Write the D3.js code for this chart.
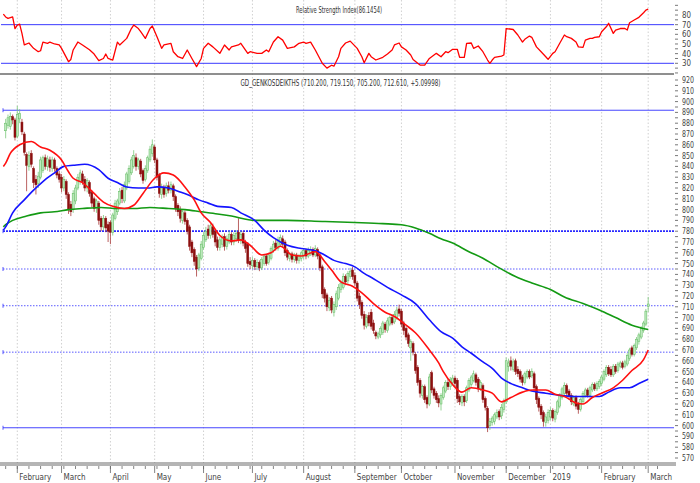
<!DOCTYPE html>
<html><head><meta charset="utf-8">
<script src="https://cdn.jsdelivr.net/npm/d3@7"></script>
<style>
html,body{margin:0;padding:0;background:#fff;}
svg{display:block;}
text{font-family:"Liberation Sans Narrow","DejaVu Sans Condensed","Arial Narrow","Liberation Sans",sans-serif;}
</style></head><body>
<svg id="c" width="700" height="483"></svg>
<script>
// ---------- DATA ----------
const TITLE_MAIN = "GD_GENKOSDEIKTHS (710.200, 719.150, 705.200, 712.610, +5.09998)";
const TITLE_RSI = "Relative Strength Index(86.1454)";
const MONTH_IDX = [5,24,45,64,85,106,128,150,170,193,215,234,256,276];
const MONTH_LBL = ["February","March","April","May","June","July","August","September","October","November","December","2019","February","March"];
const PRICE_TICKS = d3.range(570, 921, 10);
const RSI_TICKS = [30,40,50,60,70,80];
const H_LINES = [892, 780, 745, 711, 668, 598];
const RSI_LINES = [70, 30];

const OPEN = [
873,878,877,886,883,
868,884,881,870,851,840,852,838,828,824,830,836,848,840,846,838,846,838,833,
830,820,826,814,805,800,808,820,826,833,828,820,825,816,810,801,806,792,784,792,786,
788,779,792,798,806,818,808,820,826,834,840,848,840,845,836,828,836,846,852,
858,846,832,814,820,815,822,818,822,812,804,800,790,797,790,784,770,763,756,746,755,
765,772,782,776,784,780,772,765,768,775,766,770,777,770,773,779,771,778,770,768,752,
748,753,747,751,746,750,757,751,755,762,769,764,768,773,770,762,755,759,754,758,753,755,
757,762,757,759,763,758,763,758,747,726,721,709,718,705,710,718,726,728,738,734,738,744,
739,732,720,714,703,692,702,705,695,686,682,684,686,694,688,694,700,696,700,708,
706,695,690,684,672,676,666,654,642,628,636,626,620,649,634,630,625,620,626,632,640,636,640,
644,642,627,621,627,623,633,638,642,647,643,634,637,625,616,600,603,604,608,613,609,615,
622,655,660,652,660,652,650,645,640,645,650,646,648,636,625,618,612,603,605,
608,614,606,612,618,626,630,637,632,628,620,626,620,615,622,628,633,628,633,638,634,636,
639,643,647,654,652,647,655,651,655,658,655,657,662,672,666,672,678,682,688,694,
710.2];
const HIGH = [
884,888,890,888,885,
896,893,884,872,853,854,855,840,832,835,849,850,851,850,849,849,848,840,836,
833,831,828,816,808,818,823,833,837,836,831,829,827,818,812,810,808,794,795,794,789,
790,797,809,810,820,821,826,835,841,849,855,852,848,847,838,841,850,859,865,
860,848,834,824,823,825,826,826,824,814,806,803,800,799,792,786,772,765,758,760,771,
779,784,786,788,787,782,775,775,777,778,776,780,779,779,781,792,780,780,772,770,756,
756,755,754,753,756,759,759,760,766,771,772,775,777,776,772,764,761,761,760,760,759,762,
764,764,765,766,765,767,765,760,749,728,723,719,720,715,725,731,735,741,740,743,746,747,
742,734,723,716,706,703,705,708,698,688,687,692,697,696,700,702,703,706,710,712,
708,697,692,686,680,678,668,656,644,638,638,628,648,651,636,632,628,630,637,642,643,645,647,
646,644,629,629,629,637,644,647,651,649,645,642,639,627,618,607,609,612,615,615,620,625,
663,662,664,662,662,655,652,647,650,652,652,653,650,638,627,620,614,611,615,
617,616,615,624,630,636,640,639,634,630,628,628,622,626,632,635,635,637,640,640,641,643,
647,652,656,656,655,657,657,659,660,660,661,667,672,674,676,682,686,692,697,708,
719.15];
const LOW = [
866,875,874,879,864,
866,880,869,850,817,836,839,820,814,820,828,834,837,836,835,835,835,829,825,
816,817,810,796,794,797,805,818,823,823,817,816,812,802,798,797,786,780,781,779,770,
768,776,790,795,804,806,806,818,824,832,838,836,837,830,824,826,834,844,849,
843,827,811,810,811,812,815,815,808,798,794,788,787,786,777,762,756,748,738,743,753,
763,770,773,773,774,766,762,762,765,762,763,768,767,767,770,769,768,766,760,747,745,
745,744,744,743,744,748,748,749,753,760,762,762,766,765,757,753,752,751,751,750,750,752,
754,754,755,757,756,756,754,743,718,714,706,706,704,701,707,716,723,726,730,731,736,735,
729,715,708,699,689,690,692,689,685,680,680,681,684,686,686,692,693,694,698,701,
691,684,679,673,660,665,648,637,626,625,621,616,618,630,625,621,617,614,624,630,633,633,637,
636,621,619,618,618,621,631,636,640,637,631,632,621,614,594,596,600,601,606,605,606,612,
620,650,651,650,647,645,640,637,638,643,643,644,632,620,613,606,599,599,602,
605,604,603,610,616,624,628,627,624,619,618,615,611,613,620,626,626,626,631,632,632,634,
637,641,645,646,645,645,648,649,653,652,653,655,660,664,664,670,675,680,686,692,
705.2];
const CLOSE = [
880,885,886,883,867,
888,889,872,853,841,850,842,825,823,831,846,848,840,847,839,846,838,832,828,
820,828,814,800,798,815,820,830,834,826,820,827,815,806,801,808,790,784,792,783,780,
779,795,806,808,817,810,823,833,838,846,850,840,846,833,827,838,848,856,860,
846,830,815,820,814,822,818,823,812,801,798,792,798,789,780,766,760,752,745,758,768,
776,780,776,785,777,770,765,772,774,766,773,777,770,776,778,772,777,769,764,750,749,
753,747,751,746,754,757,750,758,764,768,765,772,774,768,760,756,759,754,758,753,757,760,
762,757,762,763,758,764,757,746,722,718,710,716,707,712,722,728,732,738,733,741,743,738,
732,718,712,702,693,700,695,692,688,683,685,690,695,689,697,700,695,703,707,704,
694,688,682,676,678,668,651,640,630,636,624,620,645,633,628,624,621,628,635,640,636,643,644,
639,625,622,627,622,635,642,645,648,640,634,640,624,617,598,604,607,610,612,608,617,622,
660,658,655,659,650,648,643,640,648,650,645,650,635,624,617,610,604,608,612,
614,607,613,622,628,634,637,630,627,622,626,618,615,624,630,633,628,635,638,634,639,641,
645,650,654,648,647,655,650,657,658,654,659,665,670,666,674,680,684,690,695,706,
712.61];

// moving averages: [day index, value]
const MA_SHORT = [[-1,840],[0,843],[2,852],[6,860],[11,863],[15,858],[19,855],[24,846],[27,835],[29,829],[33,825],[38,815],[42,807],[46,803],[51,801],[55,804],[59,815],[64,829],[68,834],[72,832],[77,821],[81,809],[84,797],[88,788],[92,776],[97,771],[101,772],[105,767],[110,758],[114,760],[118,766],[123,758],[127,757],[133,761],[137,752],[140,744],[144,733],[149,729],[153,723],[158,713],[163,705],[167,701],[172,693],[176,686],[182,670],[186,658],[188,650],[192,638],[196,631],[200,635],[205,633],[209,630],[213,622],[217,626],[222,631],[226,633],[232,633],[236,629],[240,627],[245,621],[248,620],[252,626],[256,630],[261,635],[265,642],[269,651],[274,661],[276,670]];
const MA_MID = [[-1,781],[0,784],[3,797],[8,809],[12,818],[16,826],[21,834],[25,840],[29,841],[34,842],[40,837],[44,829],[48,825],[52,821],[57,820],[61,820],[65,821],[70,820],[74,817],[78,814],[83,809],[87,806],[91,803],[97,802],[101,797],[107,790],[111,781],[115,774],[121,767],[127,764],[133,762],[137,758],[141,753],[146,750],[150,747],[154,741],[158,736],[164,728],[170,721],[176,713],[182,698],[187,687],[192,681],[196,673],[200,667],[205,659],[209,653],[213,644],[218,638],[222,635],[226,632],[232,630],[238,628],[244,627],[249,627],[255,627],[259,631],[264,635],[268,635],[272,639],[276,643]];
const MA_LONG = [[-1,784],[0,786],[3,790],[9,794],[15,797],[21,798],[27,800],[33,801],[41,802],[48,801],[55,801],[62,802],[70,801],[77,800],[84,798],[91,796],[97,794],[107,790],[121,790],[136,789],[150,788],[162,787],[170,786],[176,783],[182,778],[187,773],[192,769],[199,761],[205,755],[212,746],[219,738],[226,732],[234,726],[240,719],[248,713],[255,707],[262,700],[269,693],[276,689]];

// RSI: [day index, value]
const RSI = [[-1,81],[0,78],[1,76.5],[3,78],[4,66],[5,69.6],[6,70.6],[7,61],[8,49],[10,51],[12,45.5],[14,42],[15,43],[16,52],[18,50.7],[19,52],[21,50],[23,49],[24,45.5],[27,31.7],[28,34],[29,43.8],[31,52],[33,49],[36,44],[38,39.6],[40,32.7],[42,35],[43,39.6],[44,35],[46,33.4],[48,52],[49,49],[52,55.8],[54,66],[55,69.6],[57,66],[58,62.7],[60,55.8],[62,66],[63,68.6],[65,57.5],[67,45.5],[68,49],[71,50.7],[72,42],[74,36.8],[76,35],[78,43.8],[80,35],[82,26.5],[84,35],[85,45.5],[87,50.7],[89,47],[92,40.3],[94,49],[96,43.8],[97,47],[100,49],[101,50.7],[104,40.3],[105,42],[108,40.3],[110,40.3],[112,43.8],[113,42],[115,52],[117,57.5],[119,54],[121,45.5],[124,47],[126,50.7],[128,52],[129,50.7],[131,52],[133,43.8],[136,30],[138,25],[140,28],[141,27],[143,36.8],[144,45.5],[146,51],[148,53],[151,45.5],[153,36.8],[154,30.6],[156,40.3],[157,36.8],[159,33.4],[162,36.2],[164,39.6],[166,43.8],[167,49],[169,51],[170,47],[172,43.8],[174,38.6],[175,34],[177,30],[178,28.2],[180,28.2],[182,35],[185,40.3],[187,36.8],[189,42],[190,41],[192,44.5],[194,44.5],[195,36.2],[197,36.2],[198,50.7],[200,51],[201,45.5],[203,47.9],[205,42],[207,33.4],[208,30],[209,33.4],[210,36.2],[213,37.5],[214,38.6],[215,66],[218,65],[220,59.3],[222,52],[223,54.8],[225,58.2],[226,56.9],[228,47],[230,42],[232,36.8],[233,34],[235,40.3],[236,42],[238,50.7],[240,59.3],[241,57.5],[243,55.8],[245,52],[246,47],[248,46.5],[249,54],[251,55.8],[252,55.8],[253,56.9],[255,57.5],[256,62.7],[258,67.8],[259,71.4],[261,61],[262,64.4],[264,66],[266,66],[267,64.4],[268,72],[270,74.8],[272,77.6],[274,82.3],[275,85],[276,86.15]];

// ---------- DRAW ----------
const svg = d3.select('#c');
const PLOT_R = 674, MAIN_T = 74, MAIN_B = 463, RSI_B = 73;
const x = d3.scaleLinear().domain([0, 276]).range([5.66, 648.2]);
const y = d3.scaleLinear().domain([570, 920]).range([458, 80]);
const yr = d3.scaleLinear().domain([30, 80]).range([63.3, 15]);

const defs = svg.append('defs');
defs.append('clipPath').attr('id','clipMain').append('rect')
  .attr('x',1).attr('y',MAIN_T+1).attr('width',PLOT_R-1).attr('height',MAIN_B-MAIN_T-1);
defs.append('clipPath').attr('id','clipRsi').append('rect')
  .attr('x',1).attr('y',0).attr('width',PLOT_R-1).attr('height',RSI_B);

// vertical month gridlines
svg.append('g').selectAll('line').data(MONTH_IDX).join('line')
  .attr('x1',d=>x(d)).attr('x2',d=>x(d)).attr('y1',0).attr('y2',MAIN_B)
  .attr('stroke','#c4c4c4').attr('stroke-width',0.8).attr('stroke-dasharray','1.5,2');

// panel borders
svg.append('line').attr('x1',0).attr('x2',PLOT_R).attr('y1',MAIN_T).attr('y2',MAIN_T)
  .attr('stroke','#6a6a6a').attr('stroke-width',1.5);
svg.append('line').attr('x1',0).attr('x2',PLOT_R+2).attr('y1',MAIN_B).attr('y2',MAIN_B)
  .attr('stroke','#6a6a6a').attr('stroke-width',1);
svg.append('line').attr('x1',0).attr('x2',PLOT_R+2).attr('y1',MAIN_B+2).attr('y2',MAIN_B+2)
  .attr('stroke','#6a6a6a').attr('stroke-width',1);

// RSI panel
const rsiG = svg.append('g').attr('clip-path','url(#clipRsi)');
rsiG.selectAll('line.rl').data(RSI_LINES).join('line').attr('class','rl')
  .attr('x1',1).attr('x2',PLOT_R).attr('y1',d=>yr(d)).attr('y2',d=>yr(d))
  .attr('stroke','#3a3aff').attr('stroke-width',1);
rsiG.append('path').datum(RSI)
  .attr('d', d3.line().x(d=>x(d[0])).y(d=>yr(d[1])))
  .attr('fill','none').attr('stroke','#ff0000').attr('stroke-width',1.3).attr('stroke-linejoin','round');

svg.append('text').attr('x',339).attr('y',13).attr('text-anchor','middle')
  .attr('font-size',8).attr('fill','#333').attr('textLength',86).attr('lengthAdjust','spacingAndGlyphs')
  .text(TITLE_RSI);

// RSI axis
const rsiMinor = d3.range(20, 96, 5).filter(v=>yr(v)>=1 && yr(v)<=RSI_B);
svg.append('g').selectAll('line').data(rsiMinor).join('line')
  .attr('x1',PLOT_R+1).attr('x2',PLOT_R+4).attr('y1',d=>yr(d)).attr('y2',d=>yr(d))
  .attr('stroke','#555').attr('stroke-width',0.8);
svg.append('g').selectAll('text').data(RSI_TICKS).join('text')
  .attr('x',682).attr('y',d=>yr(d)+3).attr('font-size',8).attr('fill','#444')
  .attr('textLength',9).attr('lengthAdjust','spacingAndGlyphs').text(d=>d);

// main panel
const mainG = svg.append('g').attr('clip-path','url(#clipMain)');
svg.append('text').attr('x',340.5).attr('y',85.5).attr('text-anchor','middle')
  .attr('font-size',8).attr('fill','#333').attr('textLength',200).attr('lengthAdjust','spacingAndGlyphs')
  .text(TITLE_MAIN);

// horizontal level lines
const hStyle = v => v===780 ? {c:'#2a2aff',w:1.8,d:'2,1'} : (v===892||v===598) ? {c:'#4646ff',w:1,d:null} : {c:'#5a5aff',w:1,d:'1.5,1.5'};
H_LINES.forEach(v=>{
  const s = hStyle(v);
  mainG.append('line').attr('x1',3).attr('x2',PLOT_R).attr('y1',y(v)).attr('y2',y(v))
    .attr('stroke',s.c).attr('stroke-width',s.w).attr('stroke-dasharray',s.d);
  mainG.append('line').attr('x1',3).attr('x2',3).attr('y1',y(v)-2).attr('y2',y(v)+2)
    .attr('stroke','#3030ff').attr('stroke-width',0.8);
});

// candles
const candles = CLOSE.map((c,i)=>({i, o:OPEN[i], h:HIGH[i], l:LOW[i], c}));
const cg = mainG.append('g');
cg.selectAll('line.w').data(candles).join('line').attr('class','w')
  .attr('x1',d=>x(d.i)).attr('x2',d=>x(d.i)).attr('y1',d=>y(d.h)).attr('y2',d=>y(d.l))
  .attr('stroke',d=>d.c>=d.o?'#78c878':'#a83838').attr('stroke-width',0.8);
cg.selectAll('rect').data(candles).join('rect')
  .attr('x',d=>x(d.i)-1).attr('width',2)
  .attr('y',d=>y(Math.max(d.o,d.c)))
  .attr('height',d=>Math.max(1, y(Math.min(d.o,d.c))-y(Math.max(d.o,d.c))))
  .attr('fill',d=>d.c>=d.o?'#bfeabf':'#8c0f0f')
  .attr('stroke',d=>d.c>=d.o?'#5cb85c':'#8c0f0f').attr('stroke-width',0.5);

// moving averages
const maLine = d3.line().x(d=>x(d[0])).y(d=>y(d[1])).curve(d3.curveMonotoneX);
[[MA_LONG,'#139a13'],[MA_MID,'#1414ff'],[MA_SHORT,'#ff1010']].forEach(([data,col])=>{
  mainG.append('path').datum(data).attr('d',maLine)
    .attr('fill','none').attr('stroke',col).attr('stroke-width',1.6);
});

// price axis
const minor = d3.range(570, 921, 5);
svg.append('g').selectAll('line').data(minor).join('line')
  .attr('x1',PLOT_R+1).attr('x2',PLOT_R+4).attr('y1',d=>y(d)).attr('y2',d=>y(d))
  .attr('stroke','#555').attr('stroke-width',0.8);
svg.append('g').selectAll('text').data(PRICE_TICKS).join('text')
  .attr('x',682).attr('y',d=>y(d)+3).attr('font-size',8).attr('fill','#444')
  .attr('textLength',12).attr('lengthAdjust','spacingAndGlyphs').text(d=>d);

// time axis
const dayTicks = d3.range(0, 281, 5);
svg.append('g').selectAll('line').data(dayTicks).join('line')
  .attr('x1',d=>x(d)).attr('x2',d=>x(d)).attr('y1',MAIN_B+3).attr('y2',MAIN_B+6)
  .attr('stroke','#666').attr('stroke-width',0.8);
svg.append('g').selectAll('line').data(MONTH_IDX).join('line')
  .attr('x1',d=>x(d)).attr('x2',d=>x(d)).attr('y1',MAIN_B+3).attr('y2',MAIN_B+10)
  .attr('stroke','#666').attr('stroke-width',0.8);
svg.append('g').selectAll('text').data(MONTH_IDX).join('text')
  .attr('x',d=>x(d)+2).attr('y',480).attr('font-size',8).attr('fill','#444')
  .text((d,i)=>MONTH_LBL[i]);
</script>
</body></html>
